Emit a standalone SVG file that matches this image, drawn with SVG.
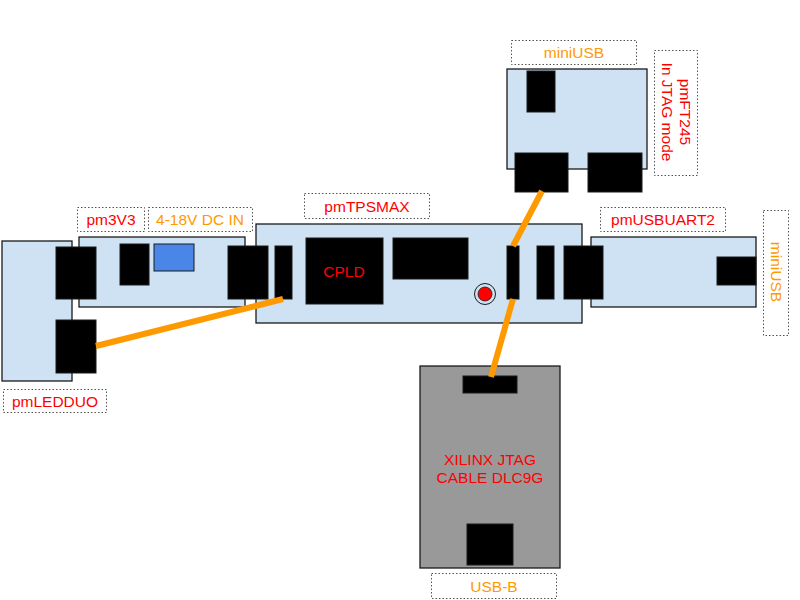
<svg xmlns="http://www.w3.org/2000/svg" width="800" height="600" viewBox="0 0 800 600">
<style>
.board{fill:#cfe2f3;stroke:#1a1a1a;stroke-width:1.3}
.gray{fill:#999999;stroke:#1a1a1a;stroke-width:1.3}
.blk{fill:#000;stroke:#1a1a1a;stroke-width:1}
.lbl{fill:none;stroke:#555;stroke-width:1;stroke-dasharray:1.5,2}
text{font-family:"Liberation Sans",Arial,sans-serif;font-size:15.5px;text-anchor:middle;dominant-baseline:central}
.red{fill:#ff0000}
.org{fill:#ff9900}
.wire{stroke:#ff9900;stroke-width:6;fill:none}
</style>
<rect width="800" height="600" fill="#fff"/>
<g id="pm3V3">
<rect class="board" x="79" y="237" width="166" height="70"/>
<rect class="blk" x="120" y="244" width="29" height="41"/>
<rect fill="#4a86e8" stroke="#1a1a1a" stroke-width="1" x="154" y="244" width="40" height="27"/>
<rect class="lbl" x="77.5" y="207.5" width="67" height="24"/>
<text class="red" x="111" y="219">pm3V3</text>
<rect class="lbl" x="148.5" y="207.5" width="104" height="24"/>
<text class="org" x="200" y="219">4-18V DC IN</text>
</g>
<g id="pmUSBUART2">
<rect class="board" x="591" y="237" width="165" height="70"/>
<rect class="blk" x="717" y="257" width="39" height="28"/>
<rect class="lbl" x="600.5" y="207.5" width="125" height="24"/>
<text class="red" x="663" y="219">pmUSBUART2</text>
<rect class="lbl" x="763.5" y="210.5" width="25" height="125"/>
<text class="org" transform="translate(776,272) rotate(90)">miniUSB</text>
</g>
<g id="pmLEDDUO">
<rect class="board" x="2" y="241" width="70" height="140"/>
<rect class="blk" x="56" y="247" width="40" height="52"/>
<rect class="blk" x="56" y="320" width="40" height="53"/>
<rect class="lbl" x="3.5" y="389.5" width="103" height="23"/>
<text class="red" x="55" y="401">pmLEDDUO</text>
</g>
<g id="pmTPSMAX">
<rect class="board" x="256" y="224" width="326" height="99"/>
<rect class="blk" x="228" y="246" width="40" height="53"/>
<rect class="blk" x="275" y="246" width="17" height="53"/>
<rect class="blk" x="306" y="238" width="77" height="66"/>
<text class="red" x="344" y="271">CPLD</text>
<rect class="blk" x="393" y="238" width="75" height="41"/>
<circle cx="485" cy="294" r="10.5" fill="none" stroke="#1a1a1a" stroke-width="1"/>
<circle cx="485" cy="294" r="7" fill="#ff0000" stroke="#1a1a1a" stroke-width="0.8"/>
<rect class="blk" x="507" y="246" width="12" height="53"/>
<rect class="blk" x="537" y="246" width="17" height="53"/>
<rect class="blk" x="564" y="246" width="39" height="53"/>
<rect class="lbl" x="304.5" y="193.5" width="125" height="25"/>
<text class="red" x="367" y="206">pmTPSMAX</text>
</g>
<g id="pmFT245">
<rect class="board" x="507" y="69" width="140" height="100"/>
<rect class="blk" x="527" y="71" width="28" height="41"/>
<rect class="blk" x="515" y="153" width="53" height="39"/>
<rect class="blk" x="588" y="153" width="54" height="39"/>
<rect class="lbl" x="511.5" y="40.5" width="125" height="24"/>
<text class="org" x="574" y="52">miniUSB</text>
<rect class="lbl" x="654.5" y="50.5" width="43" height="125"/>
<text class="red" transform="translate(685,112) rotate(90)">pmFT245</text>
<text class="red" transform="translate(667,112) rotate(90)">In JTAG mode</text>
</g>
<g id="jtagcable">
<rect class="gray" x="420" y="366" width="140" height="202"/>
<rect class="blk" x="463" y="376" width="54" height="17"/>
<rect class="blk" x="467" y="524" width="46" height="41"/>
<text class="red" x="490" y="459">XILINX JTAG</text>
<text class="red" x="490" y="477">CABLE DLC9G</text>
<rect class="lbl" x="431.5" y="573.5" width="125" height="25"/>
<text class="org" x="494" y="586">USB-B</text>
</g>
<g id="connectors">
<line class="wire" x1="96" y1="346" x2="283" y2="299"/>
<line class="wire" x1="542" y1="191" x2="513" y2="246"/>
<line class="wire" x1="513" y1="299" x2="491" y2="377"/>
</g>
</svg>
